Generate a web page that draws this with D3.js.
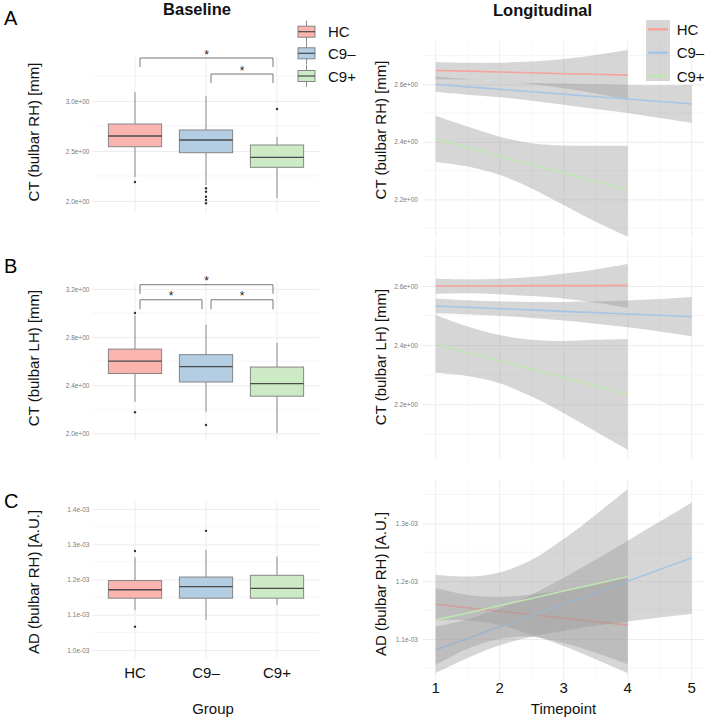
<!DOCTYPE html>
<html>
<head>
<meta charset="utf-8">
<script src="https://cdn.jsdelivr.net/npm/d3@7"></script>
<style>
  body { margin: 0; background: #fff; }
  text { font-family: "Liberation Sans", Arial, sans-serif; }
</style>
</head>
<body>
<div id="viz"></div>
<script>
var groups = ["HC", "C9\u2013", "C9+"];
var boxFill = ["#fbb4ae", "#b3cde3", "#ccebc5"];
var lineCol = ["#f6a39c", "#a6c6e6", "#bfe5b2"];

// Baseline boxplots: [lower whisker, Q1, median, Q3, upper whisker]
var boxRH = [[2.24, 2.543, 2.65, 2.77, 3.09], [2.16, 2.483, 2.61, 2.71, 3.05], [2.03, 2.337, 2.437, 2.56, 2.64]];
var outRH = [[2.19], [2.127, 2.093, 2.043, 2.01, 1.977], [2.92]];
var boxLH = [[2.262, 2.497, 2.601, 2.70, 2.98], [2.179, 2.427, 2.555, 2.654, 2.902], [2.005, 2.309, 2.414, 2.551, 2.753]];
var outLH = [[3.0, 2.176], [2.069], []];
var boxAD = [[1.113e-3, 1.147e-3, 1.171e-3, 1.197e-3, 1.263e-3], [1.085e-3, 1.147e-3, 1.18e-3, 1.207e-3, 1.284e-3], [1.128e-3, 1.147e-3, 1.175e-3, 1.212e-3, 1.265e-3]];
var outAD = [[1.281e-3, 1.066e-3], [1.338e-3], []];

// significance brackets: [group a, group b, bar level, tip level]
var sigRH = [[1, 3, 3.43, 3.34], [2, 3, 3.27, 3.18]];
var sigLH = [[1, 3, 3.235, 3.16], [1, 2, 3.11, 3.03], [2, 3, 3.11, 3.03]];

// Longitudinal fits (HC and C9+ stop at timepoint 4)
var timepoints = [1, 1.5, 2, 2.5, 3, 3.5, 4, 4.5, 5];
var rhFit = [
  [2.648, 2.646, 2.643, 2.640, 2.637, 2.635, 2.632],
  [2.600, 2.591, 2.583, 2.574, 2.566, 2.557, 2.549, 2.540, 2.532],
  [2.409, 2.380, 2.350, 2.321, 2.292, 2.262, 2.233]];
var rhLo = [
  [2.618, 2.617, 2.611, 2.601, 2.586, 2.568, 2.545],
  [2.573, 2.564, 2.555, 2.543, 2.529, 2.514, 2.500, 2.483, 2.466],
  [2.330, 2.314, 2.285, 2.238, 2.180, 2.122, 2.070]];
var rhHi = [
  [2.678, 2.675, 2.675, 2.679, 2.688, 2.702, 2.719],
  [2.627, 2.618, 2.611, 2.605, 2.603, 2.600, 2.598, 2.597, 2.598],
  [2.491, 2.453, 2.418, 2.395, 2.387, 2.386, 2.386]];

var lhFit = [
  [2.600, 2.600, 2.600, 2.601, 2.601, 2.601, 2.602],
  [2.532, 2.528, 2.523, 2.519, 2.514, 2.510, 2.505, 2.501, 2.496],
  [2.403, 2.375, 2.347, 2.318, 2.290, 2.262, 2.234]];
var lhLo = [
  [2.573, 2.575, 2.572, 2.566, 2.558, 2.544, 2.526],
  [2.507, 2.504, 2.499, 2.492, 2.483, 2.472, 2.460, 2.446, 2.430],
  [2.307, 2.296, 2.271, 2.226, 2.170, 2.108, 2.046]];
var lhHi = [
  [2.624, 2.622, 2.624, 2.630, 2.642, 2.656, 2.674],
  [2.558, 2.552, 2.548, 2.546, 2.546, 2.548, 2.551, 2.556, 2.563],
  [2.502, 2.463, 2.434, 2.418, 2.414, 2.418, 2.421]];

var adFit = [
  [1.160e-3, 1.154e-3, 1.148e-3, 1.142e-3, 1.136e-3, 1.130e-3, 1.124e-3],
  [1.081e-3, 1.101e-3, 1.121e-3, 1.140e-3, 1.160e-3, 1.180e-3, 1.200e-3, 1.220e-3, 1.240e-3],
  [1.133e-3, 1.145e-3, 1.158e-3, 1.170e-3, 1.183e-3, 1.195e-3, 1.208e-3]];
var adLo = [
  [1.132e-3, 1.132e-3, 1.124e-3, 1.107e-3, 1.088e-3, 1.065e-3, 1.041e-3],
  [1.041e-3, 1.067e-3, 1.089e-3, 1.104e-3, 1.114e-3, 1.123e-3, 1.130e-3, 1.137e-3, 1.143e-3],
  [1.055e-3, 1.083e-3, 1.100e-3, 1.104e-3, 1.093e-3, 1.076e-3, 1.056e-3]];
var adHi = [
  [1.188e-3, 1.176e-3, 1.173e-3, 1.177e-3, 1.184e-3, 1.195e-3, 1.206e-3],
  [1.121e-3, 1.134e-3, 1.153e-3, 1.177e-3, 1.206e-3, 1.237e-3, 1.270e-3, 1.303e-3, 1.336e-3],
  [1.211e-3, 1.208e-3, 1.215e-3, 1.237e-3, 1.273e-3, 1.315e-3, 1.359e-3]];

// tick values
var ticksRH = [2.0, 2.5, 3.0], minorRH = [2.25, 2.75, 3.25];
var ticksLH = [2.0, 2.4, 2.8, 3.2], minorLH = [2.2, 2.6, 3.0];
var ticksAD = [1.0e-3, 1.1e-3, 1.2e-3, 1.3e-3, 1.4e-3], minorAD = [1.05e-3, 1.15e-3, 1.25e-3, 1.35e-3];
var ticksCT = [2.2, 2.4, 2.6], minorCT = [2.1, 2.3, 2.5, 2.7];
var ticksADt = [1.1e-3, 1.2e-3, 1.3e-3], minorADt = [1.05e-3, 1.15e-3, 1.25e-3, 1.35e-3];
var ticksT = [1, 2, 3, 4, 5], minorT = [1.5, 2.5, 3.5, 4.5];

var svg = d3.select("#viz").append("svg")
    .attr("width", 708)
    .attr("height", 722);
svg.append("rect").attr("width", 708).attr("height", 722).attr("fill", "#fff");

// R style scientific labels, e.g. 2.6e+00
function sci(v) {
  return v.toExponential(1).replace(/e([+-])(\d)$/, "e$10$2");
}

var xBox = d3.scaleLinear().domain([0.4, 3.6]).range([92.4, 319.6]);
var xTime = d3.scaleLinear().domain([0.8, 5.2]).range([422.9, 704.5]);

function drawGrid(g, x, y, xMaj, xMin, yMaj, yMin, pad) {
  var xr = x.range(), yr = y.range();
  g.selectAll(".hmin").data(yMin).enter().append("line")
    .attr("x1", xr[0]).attr("x2", xr[1])
    .attr("y1", function(d) { return y(d); }).attr("y2", function(d) { return y(d); })
    .attr("stroke", "#f0f0f0").attr("stroke-width", 0.6);
  g.selectAll(".vmin").data(xMin).enter().append("line")
    .attr("y1", yr[0]).attr("y2", yr[1])
    .attr("x1", function(d) { return x(d); }).attr("x2", function(d) { return x(d); })
    .attr("stroke", "#f0f0f0").attr("stroke-width", 0.6);
  g.selectAll(".vmaj").data(xMaj).enter().append("line")
    .attr("y1", yr[0]).attr("y2", yr[1])
    .attr("x1", function(d) { return x(d); }).attr("x2", function(d) { return x(d); })
    .attr("stroke", "#ebebeb").attr("stroke-width", 0.9);

  var ax = g.append("g")
    .attr("transform", "translate(" + xr[0] + ",0)")
    .call(d3.axisLeft(y).tickValues(yMaj).tickSize(-(xr[1] - xr[0])).tickPadding(pad).tickFormat(sci));
  ax.select(".domain").remove();
  ax.selectAll("line").attr("stroke", "#ebebeb").attr("stroke-width", 0.9);
  ax.selectAll("text").attr("fill", "#7a7a7a").style("font-size", "6.5px");
}

function boxPanel(y, stats, outs, maj, minr, sig) {
  var g = svg.append("g");
  drawGrid(g, xBox, y, [1, 2, 3], [], maj, minr, 3);
  var bw = xBox(1.375) - xBox(1);

  stats.forEach(function(s, i) {
    var cx = xBox(i + 1);
    g.append("line").attr("x1", cx).attr("x2", cx)
      .attr("y1", y(s[0])).attr("y2", y(s[1]))
      .attr("stroke", "#808080").attr("stroke-width", 0.9);
    g.append("line").attr("x1", cx).attr("x2", cx)
      .attr("y1", y(s[3])).attr("y2", y(s[4]))
      .attr("stroke", "#808080").attr("stroke-width", 0.9);
    g.append("rect")
      .attr("x", cx - bw).attr("width", 2 * bw)
      .attr("y", y(s[3])).attr("height", y(s[1]) - y(s[3]))
      .attr("fill", boxFill[i]).attr("stroke", "#858585").attr("stroke-width", 1);
    g.append("line").attr("x1", cx - bw).attr("x2", cx + bw)
      .attr("y1", y(s[2])).attr("y2", y(s[2]))
      .attr("stroke", "#4a4a4a").attr("stroke-width", 1.3);
    g.selectAll(".out" + i).data(outs[i]).enter().append("circle")
      .attr("cx", cx).attr("cy", function(d) { return y(d); })
      .attr("r", 1.2).attr("fill", "#333");
  });

  (sig || []).forEach(function(b) {
    var xa = xBox(b[0]) + 5, xc = xBox(b[1]) - 4;
    g.append("path")
      .attr("d", "M" + xa + "," + y(b[3]) + "V" + y(b[2]) + "H" + xc + "V" + y(b[3]))
      .attr("fill", "none").attr("stroke", "#666").attr("stroke-width", 0.9);
    g.append("text").attr("x", (xa + xc) / 2).attr("y", y(b[2]) + 0.5)
      .attr("text-anchor", "middle").style("font-size", "12px").attr("fill", "#222")
      .text("*");
  });
  return g;
}

var clipN = 0;
function smoothPanel(y, fit, lo, hi, maj, minr) {
  var g = svg.append("g");
  drawGrid(g, xTime, y, ticksT, minorT, maj, minr, 5);
  var xr = xTime.range(), yr = y.range();
  var id = "clip" + (clipN++);
  g.append("clipPath").attr("id", id).append("rect")
    .attr("x", xr[0]).attr("y", yr[1]).attr("width", xr[1] - xr[0]).attr("height", yr[0] - yr[1]);
  var pg = g.append("g").attr("clip-path", "url(#" + id + ")");

  // ribbon then line per group, like geom_smooth
  for (var i = 0; i < 3; i++) {
    var pts = fit[i].map(function(f, j) { return { t: timepoints[j], f: f, lo: lo[i][j], hi: hi[i][j] }; });
    var area = d3.area()
      .x(function(d) { return xTime(d.t); })
      .y0(function(d) { return y(d.lo); })
      .y1(function(d) { return y(d.hi); })
      .curve(d3.curveCatmullRom);
    pg.append("path").datum(pts).attr("d", area)
      .attr("fill", "#999999").attr("fill-opacity", 0.4);
    var line = d3.line()
      .x(function(d) { return xTime(d.t); })
      .y(function(d) { return y(d.f); });
    pg.append("path").datum(pts).attr("d", line)
      .attr("fill", "none").attr("stroke", lineCol[i]).attr("stroke-width", 1.6);
  }
  return g;
}

// y scales
var yRH = d3.scaleLinear().domain([1.88, 3.44]).range([213, 57]);
var yLH = d3.scaleLinear().domain([1.945, 3.26]).range([440, 281.7]);
var yAD = d3.scaleLinear().domain([0.9765e-3, 1.4207e-3]).range([658.3, 501.7]);
var yRHt = d3.scaleLinear().domain([2.07, 2.751]).range([236.7, 40.9]);
var yLHt = d3.scaleLinear().domain([2.014, 2.752]).range([459.3, 241]);
var yADt = d3.scaleLinear().domain([1.029e-3, 1.375e-3]).range([680, 480]);

boxPanel(yRH, boxRH, outRH, ticksRH, minorRH, sigRH);
boxPanel(yLH, boxLH, outLH, ticksLH, minorLH, sigLH);
boxPanel(yAD, boxAD, outAD, ticksAD, minorAD, null);

smoothPanel(yRHt, rhFit, rhLo, rhHi, ticksCT, minorCT);
smoothPanel(yLHt, lhFit, lhLo, lhHi, ticksCT, minorCT);
smoothPanel(yADt, adFit, adLo, adHi, ticksADt, minorADt);

// x tick labels
svg.selectAll(".gx").data(groups).enter().append("text")
  .attr("x", function(d, i) { return xBox(i + 1); }).attr("y", 678)
  .attr("text-anchor", "middle").style("font-size", "15px").attr("fill", "#111")
  .text(function(d) { return d; });
svg.selectAll(".tx").data(ticksT).enter().append("text")
  .attr("x", function(d) { return xTime(d); }).attr("y", 693)
  .attr("text-anchor", "middle").style("font-size", "15px").attr("fill", "#111")
  .text(function(d) { return d; });

// axis titles
function label(x, y, txt, size, rot, weight) {
  var t = svg.append("text")
    .attr("transform", "translate(" + x + "," + y + ")" + (rot ? " rotate(-90)" : ""))
    .attr("text-anchor", "middle").style("font-size", size + "px").attr("fill", "#111")
    .text(txt);
  if (weight) t.style("font-weight", weight);
  return t;
}
label(213, 714, "Group", 15);
label(563.5, 714, "Timepoint", 15);
label(39, 132, "CT (bulbar RH) [mm]", 15, true);
label(39, 358, "CT (bulbar LH) [mm]", 15, true);
label(39, 582, "AD (bulbar RH) [A.U.]", 15, true);
label(386, 130, "CT (bulbar RH) [mm]", 15, true);
label(386, 357, "CT (bulbar LH) [mm]", 15, true);
label(386, 584, "AD (bulbar RH) [A.U.]", 15, true);
label(197, 15, "Baseline", 16.5, false, "bold");
label(542.5, 16, "Longitudinal", 16.5, false, "bold");

svg.append("text").attr("x", 4).attr("y", 25).style("font-size", "20px").text("A");
svg.append("text").attr("x", 4).attr("y", 273).style("font-size", "20px").text("B");
svg.append("text").attr("x", 4).attr("y", 508).style("font-size", "20px").text("C");

// legend, baseline
var legY = [31.7, 53.3, 76];
groups.forEach(function(gname, i) {
  var cy = legY[i], cx = 306.5;
  svg.append("line").attr("x1", cx).attr("x2", cx).attr("y1", cy - 11).attr("y2", cy + 11)
    .attr("stroke", "#808080").attr("stroke-width", 0.9);
  svg.append("rect").attr("x", 298).attr("y", cy - 5.5).attr("width", 17).attr("height", 11)
    .attr("fill", boxFill[i]).attr("stroke", "#858585").attr("stroke-width", 1);
  svg.append("line").attr("x1", 298).attr("x2", 315).attr("y1", cy).attr("y2", cy)
    .attr("stroke", "#4a4a4a").attr("stroke-width", 1.2);
  svg.append("text").attr("x", 328).attr("y", cy + 5.5).style("font-size", "15px").attr("fill", "#111")
    .text(gname);
});

// legend, longitudinal
var legY2 = [29.3, 52.7, 76];
svg.append("rect").attr("x", 646).attr("y", 20).attr("width", 24).attr("height", 61)
  .attr("fill", "#999999").attr("fill-opacity", 0.4);
groups.forEach(function(gname, i) {
  var cy = legY2[i];
  svg.append("line").attr("x1", 648).attr("x2", 668).attr("y1", cy).attr("y2", cy)
    .attr("stroke", lineCol[i]).attr("stroke-width", 2.6);
  svg.append("text").attr("x", 676.7).attr("y", cy + 5.5).style("font-size", "15px").attr("fill", "#111")
    .text(gname);
});
</script>
</body>
</html>
